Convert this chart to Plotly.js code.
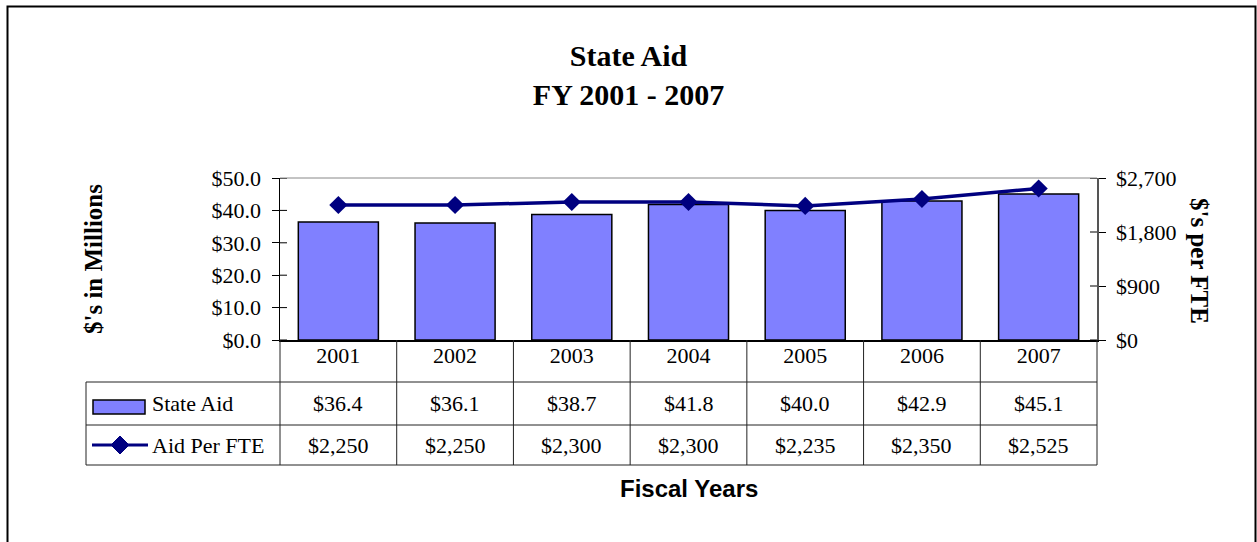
<!DOCTYPE html>
<html>
<head>
<meta charset="utf-8">
<script src="https://cdn.plot.ly/plotly-3.0.1.min.js"></script>
<style>html,body{margin:0;padding:0;background:#fff;}#chart{width:1257px;height:542px;}</style>
</head>
<body>
<div id="chart"></div>
<script>
// ---- data ----
const categories = ['2001', '2002', '2003', '2004', '2005', '2006', '2007'];
const stateAid = [36.4, 36.1, 38.7, 41.8, 40.0, 42.9, 45.1];
const aidPerFTE = [2250, 2250, 2300, 2300, 2235, 2350, 2525];
const seriesNames = ['State Aid', 'Aid Per FTE'];
const leftTicks = [0, 10, 20, 30, 40, 50];
const rightTicks = [0, 900, 1800, 2700];

// ---- layout geometry (pixels) ----
const W = 1257, H = 542;
const PL = 280, PR = 1097, PT = 178, PB = 340;
const pw = PR - PL, ph = PB - PT;
const px = X => (X - PL) / pw;
const py = Y => (PB - Y) / ph;

const serif = 'Liberation Serif, Times New Roman, serif';
const sans = 'Liberation Sans, Arial, sans-serif';
const barColor = '#8080FF';
const lineColor = '#000080';

const fmtAid = v => '$' + v.toFixed(1);
const fmtFTE = v => '$' + v.toLocaleString('en-US');

const traces = [
  {
    type: 'bar', name: seriesNames[0], x: categories, y: stateAid,
    marker: {color: barColor, line: {color: '#000', width: 1.5}},
    width: 0.686, yaxis: 'y', hoverinfo: 'x+y'
  },
  {
    type: 'scatter', mode: 'lines+markers', name: seriesNames[1], x: categories, y: aidPerFTE,
    line: {color: lineColor, width: 3.5},
    marker: {symbol: 'diamond', size: 14, color: lineColor},
    yaxis: 'y2', cliponaxis: false
  }
];

// table geometry
const tblLeft = 86, row0 = 382, row1 = 425, row2 = 465;
const shapes = [];
const lineStyle = {color: '#222', width: 1};
// outer frame
shapes.push({type: 'rect', xref: 'paper', yref: 'paper', x0: px(7.5), x1: px(1255.5), y0: py(600), y1: py(6.5), line: {color: '#000', width: 2}, layer: 'below'});
// plot area top border
shapes.push({type: 'line', xref: 'paper', yref: 'paper', x0: 0, x1: 1, y0: 1, y1: 1, line: {color: '#888', width: 1}});
// horizontal table lines
[row0, row1, row2].forEach(Y => shapes.push({type: 'line', xref: 'paper', yref: 'paper', x0: px(tblLeft), x1: 1, y0: py(Y), y1: py(Y), line: lineStyle}));
// vertical column lines
for (let i = 0; i <= categories.length; i++) {
  shapes.push({type: 'line', xref: 'paper', yref: 'paper', x0: i / categories.length, x1: i / categories.length, y0: py(PB), y1: py(row2), line: lineStyle});
}
// table left border
shapes.push({type: 'line', xref: 'paper', yref: 'paper', x0: px(tblLeft), x1: px(tblLeft), y0: py(row0), y1: py(row2), line: lineStyle});
// legend keys
shapes.push({type: 'rect', xref: 'paper', yref: 'paper', x0: px(93), x1: px(145), y0: py(414), y1: py(400), fillcolor: barColor, line: {color: '#000', width: 1.5}});
const ly = (row1 + row2) / 2;
shapes.push({type: 'line', xref: 'paper', yref: 'paper', x0: px(92), x1: px(148), y0: py(ly), y1: py(ly), line: {color: lineColor, width: 3}});
shapes.push({type: 'path', xref: 'paper', yref: 'paper',
  path: `M ${px(120)} ${py(ly - 9)} L ${px(129)} ${py(ly)} L ${px(120)} ${py(ly + 9)} L ${px(111)} ${py(ly)} Z`,
  fillcolor: lineColor, line: {color: lineColor, width: 1}});
// inner halves of the crossing tick marks
leftTicks.forEach(v => shapes.push({type: 'line', xref: 'paper', yref: 'y', x0: 0, x1: px(PL + 7), y0: v, y1: v, line: {color: '#000', width: 1}}));
rightTicks.forEach(v => shapes.push({type: 'line', xref: 'paper', yref: 'y2', x0: px(PR - 7), x1: 1, y0: v, y1: v, line: {color: '#000', width: 1}}));

const annotations = [];
const cellFont = {family: serif, size: 22, color: '#000'};
const r1c = (row0 + row1) / 2, r2c = (row1 + row2) / 2;
categories.forEach((c, i) => {
  const cx = (i + 0.5) / categories.length;
  annotations.push({xref: 'paper', yref: 'paper', x: cx, y: py(r1c), text: fmtAid(stateAid[i]), showarrow: false, font: cellFont, xanchor: 'center', yanchor: 'middle'});
  annotations.push({xref: 'paper', yref: 'paper', x: cx, y: py(r2c), text: fmtFTE(aidPerFTE[i]), showarrow: false, font: cellFont, xanchor: 'center', yanchor: 'middle'});
});
annotations.push({xref: 'paper', yref: 'paper', x: px(150), y: py(r1c), text: seriesNames[0], showarrow: false, font: cellFont, xanchor: 'left', yanchor: 'middle'});
annotations.push({xref: 'paper', yref: 'paper', x: px(150), y: py(r2c), text: seriesNames[1], showarrow: false, font: cellFont, xanchor: 'left', yanchor: 'middle'});
// right axis title (reads top to bottom)
annotations.push({xref: 'paper', yref: 'paper', x: px(1200), y: py(261), text: "$'s per FTE", textangle: 90, showarrow: false,
  font: {family: serif, size: 25, color: '#000', weight: 'bold'}, xanchor: 'center', yanchor: 'middle'});
// x-axis title
annotations.push({xref: 'paper', yref: 'paper', x: 0.5, y: py(488), text: 'Fiscal Years', showarrow: false,
  font: {family: sans, size: 24, color: '#000', weight: 'bold'}, xanchor: 'center', yanchor: 'middle'});

const layout = {
  width: W, height: H, autosize: false,
  margin: {l: PL, r: W - PR, t: PT, b: H - PB, pad: 0},
  paper_bgcolor: '#fff', plot_bgcolor: '#fff',
  showlegend: false,
  font: {family: serif, color: '#000', size: 22},
  title: {text: 'State Aid<br>FY 2001 - 2007', font: {family: serif, size: 30, color: '#000', weight: 'bold'},
    x: 0.5, xref: 'container', xanchor: 'center', y: 1 - 66 / H, yref: 'container', yanchor: 'middle'},
  xaxis: {type: 'category', categoryarray: categories, range: [-0.5, categories.length - 0.5],
    showline: true, linecolor: '#000', linewidth: 1.5, ticks: '', showgrid: false, zeroline: false,
    tickfont: {family: serif, size: 22, color: '#000'}, ticklabelstandoff: -5, fixedrange: true},
  yaxis: {range: [0, 50], tickmode: 'array', tickvals: leftTicks, ticktext: leftTicks.map(fmtAid),
    showline: true, linecolor: '#000', linewidth: 1.5, ticks: 'outside', ticklen: 7, tickcolor: '#000', tickwidth: 1,
    showgrid: false, zeroline: false, tickfont: {family: serif, size: 22, color: '#000'}, ticklabelstandoff: 6,
    title: {text: "$'s in Millions", font: {family: serif, size: 25, color: '#000', weight: 'bold'}, standoff: 102}},
  yaxis2: {range: [0, 2700], tickmode: 'array', tickvals: rightTicks, ticktext: rightTicks.map(fmtFTE), overlaying: 'y', side: 'right',
    showline: true, linecolor: '#555', linewidth: 1.5, ticks: 'outside', ticklen: 7, tickcolor: '#000', tickwidth: 1,
    showgrid: false, zeroline: false, tickfont: {family: serif, size: 22, color: '#000'}, ticklabelstandoff: 6},
  shapes: shapes,
  annotations: annotations
};

Plotly.newPlot('chart', traces, layout, {displayModeBar: false, staticPlot: true});
</script>
</body>
</html>
